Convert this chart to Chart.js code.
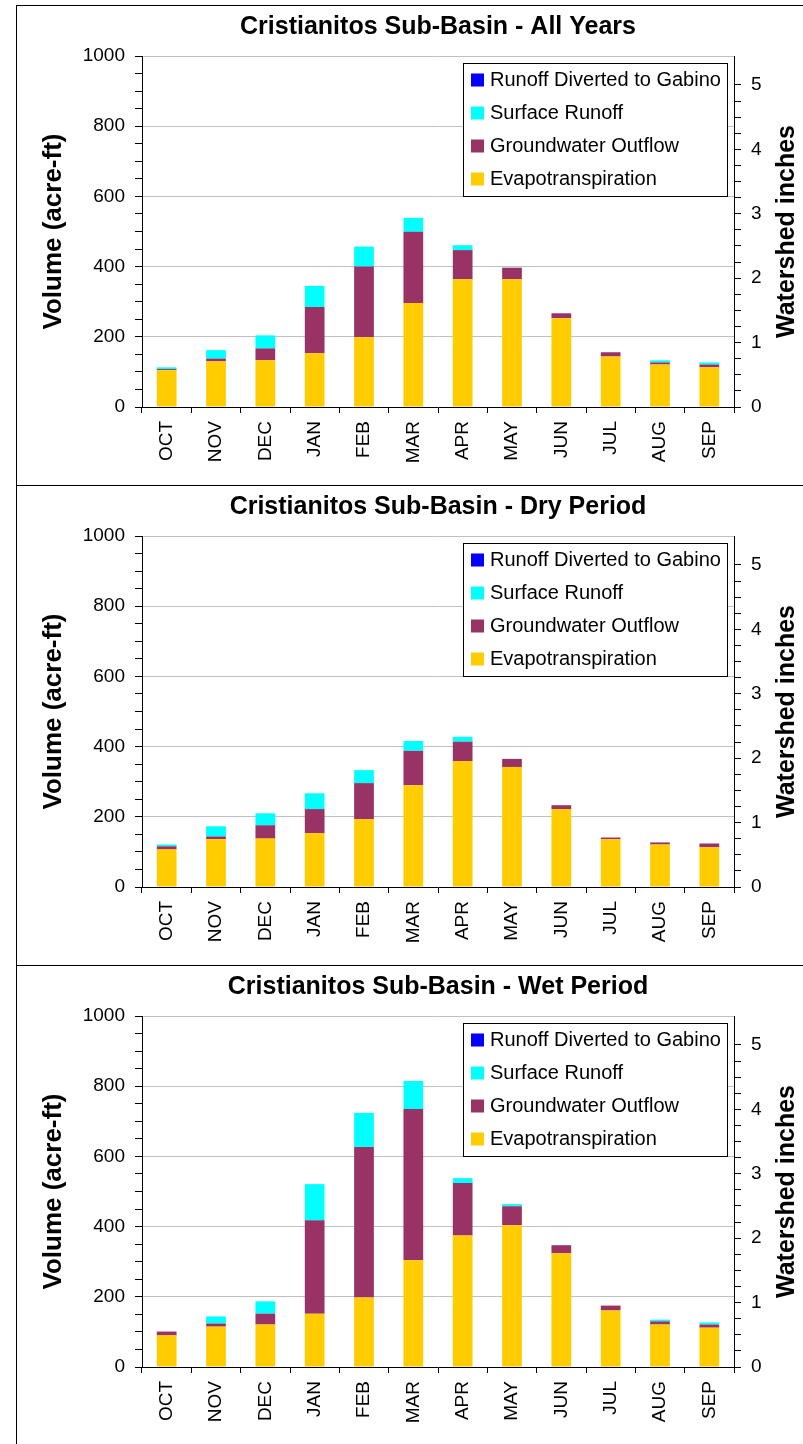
<!DOCTYPE html>
<html lang="en">
<head>
<meta charset="UTF-8">
<title>Cristianitos Sub-Basin</title>
<script src="https://cdn.jsdelivr.net/npm/chart.js"></script>
<style>
  body { margin: 0; background: #fff; }
  #frame { position: absolute; left: 16px; top: 5px; width: 786px; border-top: 1px solid #000; border-left: 1px solid #000; }
  .panel { position: relative; height: 479px; border-bottom: 1px solid #000; }
</style>
</head>
<body>
<div id="frame">
  <div class="panel"><canvas id="allChart"></canvas></div>
  <div class="panel"><canvas id="dryChart"></canvas></div>
  <div class="panel"><canvas id="wetChart"></canvas></div>
</div>

<script>
// months (water year order)
const months = ['OCT', 'NOV', 'DEC', 'JAN', 'FEB', 'MAR', 'APR', 'MAY', 'JUN', 'JUL', 'AUG', 'SEP'];
const seriesNames = ['Evapotranspiration', 'Groundwater Outflow', 'Surface Runoff', 'Runoff Diverted to Gabino'];

// All years (acre-ft)
const allET = [105, 130, 133, 153, 199, 296, 364, 364, 253, 144, 121, 113];
const allGW = [3, 8, 34, 132, 201, 203, 83, 33, 14, 12, 6, 8];
const allSR = [5, 24, 37, 60, 57, 40, 14, 0, 0, 0, 6, 6];
const allRD = [0, 0, 0, 0, 0, 0, 0, 0, 0, 0, 0, 0];

// Dry period
const dryET = [107, 136, 138, 153, 193, 290, 359, 342, 222, 136, 121, 113];
const dryGW = [9, 8, 38, 69, 103, 98, 55, 23, 11, 5, 6, 11];
const drySR = [5, 29, 34, 45, 37, 28, 14, 0, 0, 0, 0, 0];
const dryRD = [0, 0, 0, 0, 0, 0, 0, 0, 0, 0, 0, 0];

// Wet period
const wetET = [90, 115, 121, 152, 198, 304, 375, 404, 324, 161, 121, 112];
const wetGW = [11, 9, 31, 266, 429, 431, 149, 54, 23, 14, 9, 9];
const wetSR = [0, 20, 35, 103, 97, 80, 14, 6, 0, 0, 5, 6];
const wetRD = [0, 0, 0, 0, 0, 0, 0, 0, 0, 0, 0, 0];

const colors = ['#FFCC00', '#993366', '#00FFFF', '#0000FF'];
const fontFamily = '"Liberation Sans", Arial, sans-serif';

Chart.defaults.font.family = fontFamily;
Chart.defaults.color = '#000';

// legend box drawn inside the plot, top right
const insideLegend = {
    id: 'insideLegend',
    afterDraw(chart) {
        const { ctx, chartArea } = chart;
        const w = 264, h = 133;
        const x = chartArea.right - 7 - w;
        const y = chartArea.top + 6.5;
        ctx.save();
        ctx.fillStyle = '#fff';
        ctx.fillRect(x, y, w, h);
        ctx.strokeStyle = '#000';
        ctx.lineWidth = 1;
        ctx.strokeRect(Math.round(x) + 0.5, Math.round(y) + 0.5, w, h);
        ctx.font = '20px ' + fontFamily;
        ctx.textBaseline = 'middle';
        const sets = chart.data.datasets.slice().reverse();
        sets.forEach((ds, i) => {
            const cy = y + 17 + i * 33;
            ctx.fillStyle = ds.backgroundColor;
            ctx.fillRect(x + 8, cy - 6, 13, 13);
            ctx.fillStyle = '#000';
            ctx.fillText(ds.label, x + 27, cy + 1);
        });
        ctx.restore();
    }
};

// right axis title, reading bottom to top like the left one
const rightTitle = {
    id: 'rightTitle',
    afterDraw(chart, args, opts) {
        const { ctx, chartArea } = chart;
        ctx.save();
        ctx.translate(chart.width - 16, (chartArea.top + chartArea.bottom) / 2);
        ctx.rotate(-Math.PI / 2);
        ctx.font = 'bold 25px ' + fontFamily;
        ctx.textAlign = 'center';
        ctx.textBaseline = 'middle';
        ctx.fillStyle = '#000';
        ctx.fillText(opts.text, 0, 0);
        ctx.restore();
    }
};

function makeChart(id, title, et, gw, sr, rd) {
    const values = [et, gw, sr, rd];
    return new Chart(document.getElementById(id), {
        type: 'bar',
        data: {
            labels: months,
            datasets: values.map((v, i) => ({
                label: seriesNames[i],
                data: v,
                backgroundColor: colors[i],
                barPercentage: 0.4,
                categoryPercentage: 1.0
            }))
        },
        options: {
            responsive: true,
            maintainAspectRatio: false,
            animation: false,
            layout: { padding: 0 },
            plugins: {
                legend: { display: false },
                tooltip: { enabled: false },
                title: {
                    display: true,
                    fullSize: false,
                    text: title,
                    color: '#000',
                    font: { size: 25, weight: 'bold' },
                    padding: { top: 6, bottom: 14 }
                },
                rightTitle: { text: 'Watershed inches' }
            },
            scales: {
                x: {
                    stacked: true,
                    grid: { offset: true, drawOnChartArea: false, tickLength: 6, tickColor: '#000' },
                    border: { color: '#000' },
                    ticks: { minRotation: 90, maxRotation: 90, padding: 8, font: { size: 19 } },
                    afterFit: s => { s.height = 78; }
                },
                y: {
                    stacked: true,
                    position: 'left',
                    min: 0,
                    max: 1000,
                    ticks: {
                        stepSize: 50,
                        autoSkip: false,
                        padding: 10,
                        font: { size: 19 },
                        callback: v => (v % 200 === 0 ? v : '')
                    },
                    grid: {
                        color: c => (c.tick && c.tick.value % 200 === 0 && c.tick.value > 0 ? '#c0c0c0' : 'rgba(0,0,0,0)'),
                        tickColor: '#000',
                        tickLength: 7
                    },
                    border: { color: '#000' },
                    title: {
                        display: true,
                        text: 'Volume (acre-ft)',
                        font: { size: 26, weight: 'bold' },
                        padding: { top: 21, bottom: 0 }
                    },
                    afterFit: s => { s.width = 125; }
                },
                y2: {
                    position: 'right',
                    min: 0,
                    max: 5.45,
                    ticks: {
                        stepSize: 0.25,
                        autoSkip: false,
                        padding: 10,
                        font: { size: 19 },
                        callback: v => (Math.abs(v - Math.round(v)) < 1e-6 ? Math.round(v) : '')
                    },
                    afterBuildTicks: s => {
                        s.ticks = s.ticks.filter(t => Math.abs(t.value * 4 - Math.round(t.value * 4)) < 1e-6);
                    },
                    grid: { drawOnChartArea: false, tickColor: '#000', tickLength: 7 },
                    border: { color: '#000' },
                    afterFit: s => { s.width = 69; }
                }
            }
        },
        plugins: [insideLegend, rightTitle]
    });
}

makeChart('allChart', 'Cristianitos Sub-Basin - All Years', allET, allGW, allSR, allRD);
makeChart('dryChart', 'Cristianitos Sub-Basin - Dry Period', dryET, dryGW, drySR, dryRD);
makeChart('wetChart', 'Cristianitos Sub-Basin - Wet Period', wetET, wetGW, wetSR, wetRD);
</script>
</body>
</html>
